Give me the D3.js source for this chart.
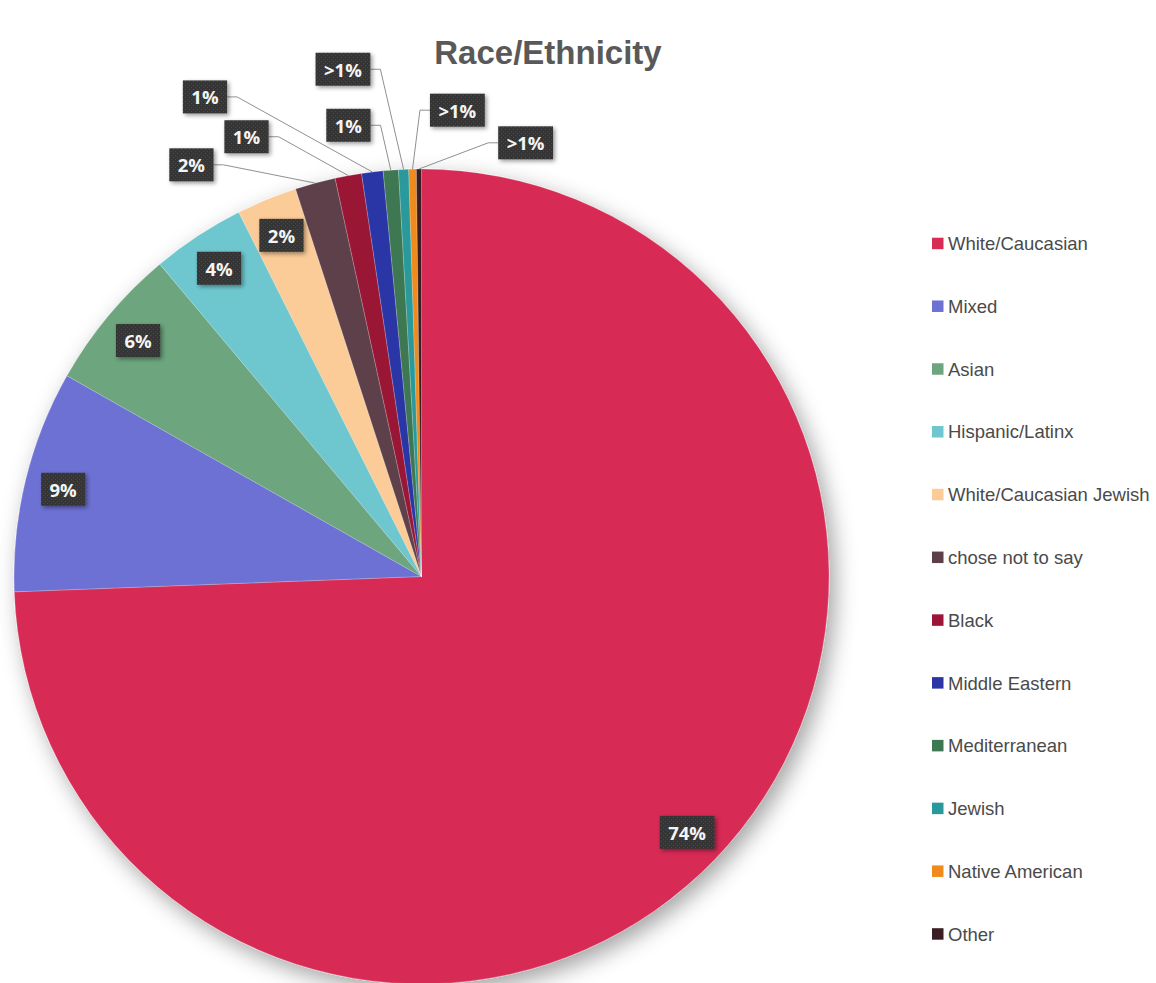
<!DOCTYPE html>
<html>
<head>
<meta charset="utf-8">
<script src="https://cdn.jsdelivr.net/npm/d3@7/dist/d3.min.js"></script>
<style>
  html, body { margin: 0; padding: 0; background: #ffffff; }
  svg { display: block; }
</style>
</head>
<body>
<svg id="chart" width="1156" height="983"></svg>
<script>
// ---- Survey data: race / ethnicity of respondents (percent of total) ----
const categories = [
  "White/Caucasian", "Mixed", "Asian", "Hispanic/Latinx",
  "White/Caucasian Jewish", "chose not to say", "Black",
  "Middle Eastern", "Mediterranean", "Jewish", "Native American", "Other"
];
const shares = [74.4, 8.8, 5.7, 3.7, 2.4, 1.6, 1.05, 0.85, 0.6, 0.4, 0.3, 0.2];
const sliceColors = [
  "#d72c54", "#6d71d3", "#6ca57e", "#6ec7cf",
  "#fbcb98", "#5d3f48", "#9a1536", "#2c34a6",
  "#3e7852", "#2a999b", "#ef8b1c", "#3a1e23"
];
const title = "Race/Ethnicity";

// ---- Layout ----
const cx = 421.5, cy = 576.5, R = 407.5;
const insideLabelFactor = 0.905;
// Small slices get call-out labels placed around the top of the pie
// (polar position: degrees clockwise from 12 o'clock, distance from centre).
const callouts = {
  "chose not to say": { angle: 330.8, dist: 471.6 },
  "Black":            { angle: 338.3, dist: 473.3 },
  "Middle Eastern":   { angle: 335.7, dist: 526.2 },
  "Mediterranean":    { angle: 350.8, dist: 457.1 },
  "Jewish":           { angle: 351.2, dist: 513.3 },
  "Native American":  { angle: 4.4,   dist: 467.7 },
  "Other":            { angle: 13.5,  dist: 446.0 }
};

const fmtPct = v => v < 0.5 ? ">1%" : Math.round(v) + "%";
const polar = (deg, r) => {
  const a = deg * Math.PI / 180;
  return [cx + r * Math.sin(a), cy - r * Math.cos(a)];
};

const svg = d3.select("#chart");
const defs = svg.append("defs");

// soft shadow under the pie
const pieShadow = defs.append("filter").attr("id", "pieShadow")
  .attr("x", "-20%").attr("y", "-20%").attr("width", "140%").attr("height", "140%");
pieShadow.append("feDropShadow")
  .attr("dx", 6).attr("dy", 8).attr("stdDeviation", 11)
  .attr("flood-color", "#000").attr("flood-opacity", 0.36);

// shadow for label boxes
const boxShadow = defs.append("filter").attr("id", "boxShadow")
  .attr("x", "-30%").attr("y", "-30%").attr("width", "160%").attr("height", "160%");
boxShadow.append("feDropShadow")
  .attr("dx", 2).attr("dy", 2).attr("stdDeviation", 2)
  .attr("flood-color", "#000").attr("flood-opacity", 0.4);

// dotted dark texture for the label boxes
const pat = defs.append("pattern").attr("id", "dots")
  .attr("width", 4).attr("height", 4).attr("patternUnits", "userSpaceOnUse");
pat.append("rect").attr("width", 4).attr("height", 4).attr("fill", "#353535");
pat.append("rect").attr("x", 1).attr("y", 1).attr("width", 1).attr("height", 1).attr("fill", "#4d4d4d");
pat.append("rect").attr("x", 3).attr("y", 3).attr("width", 1).attr("height", 1).attr("fill", "#474747");

const pie = d3.pie().sort(null).value(d => d.value)
  .startAngle(0).endAngle(2 * Math.PI);
const rows = categories.map((c, i) => ({ name: c, value: shares[i], color: sliceColors[i] }));
const arcs = pie(rows);
const arc = d3.arc().innerRadius(0).outerRadius(R);

// ---- Pie slices ----
svg.append("g")
  .attr("transform", `translate(${cx},${cy})`)
  .attr("filter", "url(#pieShadow)")
  .selectAll("path")
  .data(arcs)
  .join("path")
  .attr("d", arc)
  .attr("fill", d => d.data.color)
  .attr("stroke", "rgba(255,255,255,0.35)")
  .attr("stroke-width", 0.6);

// ---- Title ----
svg.append("text")
  .attr("x", 548).attr("y", 64)
  .attr("text-anchor", "middle")
  .attr("font-family", "'Liberation Sans', Arial, sans-serif")
  .attr("font-weight", "bold")
  .attr("font-size", 33)
  .attr("fill", "#595959")
  .text(title);

// ---- Data labels ----
const labelG = svg.append("g")
  .attr("font-family", "'Open Sans', 'DejaVu Sans', sans-serif")
  .attr("font-weight", "bold")
  .attr("font-size", 18.5);

const boxH = 33, padX = 8.5, stub = 10;

arcs.forEach(d => {
  const midDeg = ((d.startAngle + d.endAngle) / 2) * 180 / Math.PI;
  const txt = fmtPct(d.data.value);
  const place = callouts[d.data.name];
  const [bx, by] = place ? polar(place.angle, place.dist)
                         : polar(midDeg, R * insideLabelFactor);

  const g = labelG.append("g");
  const t = g.append("text")
    .attr("x", bx).attr("y", by)
    .attr("text-anchor", "middle")
    .attr("dominant-baseline", "central")
    .attr("fill", "#f4f4f4")
    .text(txt);
  const w = t.node().getComputedTextLength() + padX * 2;

  if (place) {
    // leader line: short horizontal stub from the box, then to the slice edge
    const [ax, ay] = polar(midDeg, R);
    const leftSide = bx < ax;
    const x0 = leftSide ? bx + w / 2 : bx - w / 2;
    const x1 = leftSide ? x0 + stub : x0 - stub;
    labelG.insert("polyline", ":first-child")
      .attr("points", `${x0},${by} ${x1},${by} ${ax},${ay}`)
      .attr("fill", "none")
      .attr("stroke", "#909090")
      .attr("stroke-width", 1);
  }

  g.insert("rect", "text")
    .attr("x", bx - w / 2).attr("y", by - boxH / 2)
    .attr("width", w).attr("height", boxH)
    .attr("fill", "url(#dots)")
    .attr("filter", "url(#boxShadow)");
});

// ---- Legend ----
const legend = svg.append("g")
  .attr("font-family", "'Liberation Sans', Arial, sans-serif")
  .attr("font-size", 18.5)
  .attr("fill", "#4a4a4a");
const legendY = d3.scalePoint().domain(categories).range([243.5, 934]);
const item = legend.selectAll("g").data(rows).join("g")
  .attr("transform", d => `translate(932,${legendY(d.name)})`);
item.append("rect")
  .attr("x", 0).attr("y", -5.8)
  .attr("width", 11.5).attr("height", 11.5)
  .attr("fill", d => d.color);
item.append("text")
  .attr("x", 16).attr("y", 6.6)
  .attr("textLength", null)
  .text(d => d.name);
</script>
</body>
</html>
